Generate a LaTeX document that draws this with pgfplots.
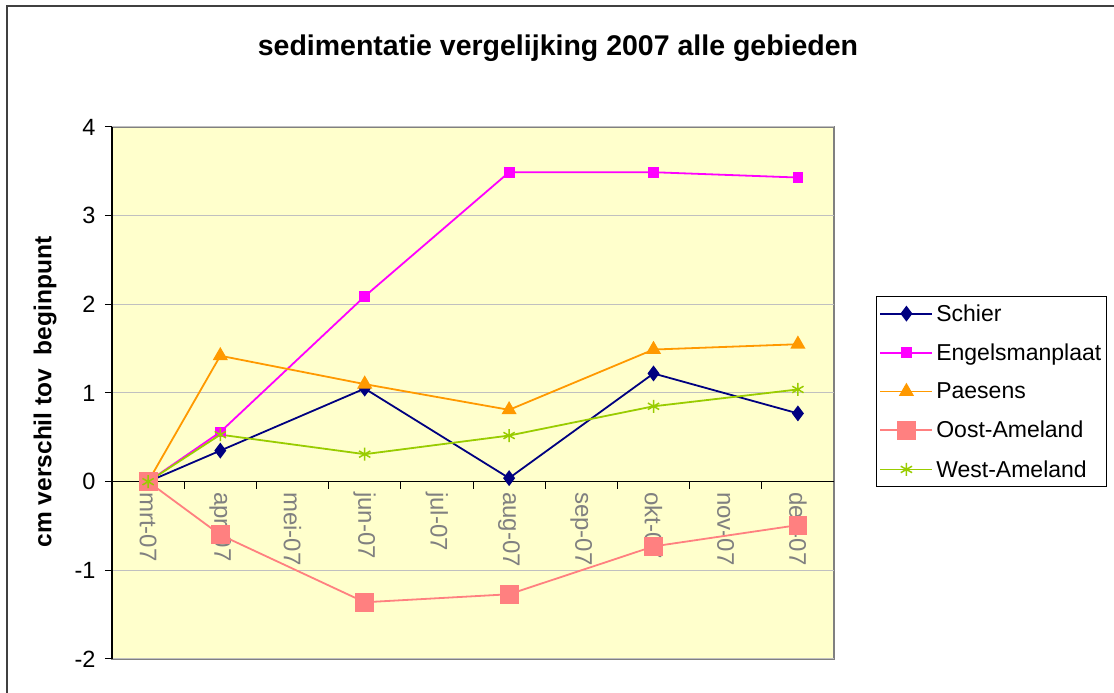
\documentclass[border=0pt]{standalone}
\usepackage{pgfplots}
\pgfplotsset{compat=1.18}
\usepackage{fontspec}
\setmainfont{Liberation Sans}
\definecolor{bg}{HTML}{FFFFCC}
\definecolor{cSchier}{HTML}{000080}
\definecolor{cEngel}{HTML}{FF00FF}
\definecolor{cPaes}{HTML}{FF9900}
\definecolor{cOost}{HTML}{FF8080}
\definecolor{cWest}{HTML}{99CC00}
\definecolor{gridc}{HTML}{C0C0C0}
\definecolor{xlab}{HTML}{808080}
\begin{document}
\begin{tikzpicture}[x=1pt,y=1pt]
\useasboundingbox (0,0) rectangle (1114,693);
\fill[white] (0,0) rectangle (1114,693);
\draw[line width=2.5pt, black!75] (7,-2) -- (7,687) -- (1116,687);
\node[font=\fontsize{28.5}{32}\selectfont\bfseries] at (558,645) {sedimentatie vergelijking 2007 alle gebieden};
\node[rotate=90, font=\fontsize{24.5}{28}\selectfont\bfseries] at (45,301) {cm verschil tov\ \ beginpunt};
\begin{axis}[
  at={(112pt,34pt)}, anchor=south west,
  width=722pt, height=532pt, scale only axis,
  xmin=-0.5, xmax=9.5, ymin=-2, ymax=4,
  axis background/.style={fill=bg, draw=xlab, line width=1.5pt},
  axis x line=middle, axis y line=left,
  axis line style={-, line width=1.2pt, black},
  hide obscured x ticks=false, hide obscured y ticks=false,
  ytick={-2,-1,0,1,2,3,4},
  ymajorgrids, grid style={gridc, line width=1pt},
  xtick={0,1,2,3,4,5,6,7,8,9},
  xticklabels={mrt-07,apr-07,mei-07,jun-07,jul-07,aug-07,sep-07,okt-07,nov-07,dec-07},
  major x tick style={draw=none},
  minor xtick={0.5,1.5,2.5,3.5,4.5,5.5,6.5,7.5,8.5},
  tick align=outside, major tick length=7pt, minor tick length=7pt,
  tick style={line width=1pt, black},
  xticklabel style={rotate=-90, anchor=west, text=xlab, font=\fontsize{24}{28}\selectfont},
  yticklabel style={font=\fontsize{23.5}{28}\selectfont, black, xshift=-6pt},
  /pgf/number format/assume math mode=true,
  legend style={at={(1.0582,0.6823)}, anchor=north west, draw=black, line width=1pt,
    fill=white, font=\fontsize{23}{27}\selectfont, row sep=17pt, column sep=1pt,
    inner xsep=3pt, inner ysep=6pt},
  legend cell align=left,
  legend image code/.code={\draw[mark repeat=2,mark phase=2] plot coordinates {(0pt,0pt) (26pt,0pt) (52pt,0pt)};},
]
\addplot[cSchier, line width=1.8pt, mark=diamond*, mark size=6.5pt, mark options={solid}] coordinates {
(0,0) (1,0.35) (3,1.05) (5,0.04) (7,1.22) (9,0.77)};
\addlegendentry{Schier}
\addplot[cEngel, line width=1.8pt, mark=square*, mark size=4.5pt] coordinates {
(0,0) (1,0.56) (3,2.09) (5,3.49) (7,3.49) (9,3.43)};
\addlegendentry{Engelsmanplaat}
\addplot[cPaes, line width=1.8pt, mark=triangle*, mark size=7pt] coordinates {
(0,0) (1,1.42) (3,1.10) (5,0.81) (7,1.49) (9,1.55)};
\addlegendentry{Paesens}
\addplot[cOost, line width=1.8pt, mark=square*, mark size=8.5pt] coordinates {
(0,0) (1,-0.60) (3,-1.36) (5,-1.27) (7,-0.73) (9,-0.49)};
\addlegendentry{Oost-Ameland}
\addplot[cWest, line width=1.8pt, mark=asterisk, mark size=6.5pt, mark options={line width=1.5pt}] coordinates {
(0,0) (1,0.53) (3,0.31) (5,0.52) (7,0.85) (9,1.04)};
\addlegendentry{West-Ameland}
\end{axis}
\end{tikzpicture}
\end{document}
